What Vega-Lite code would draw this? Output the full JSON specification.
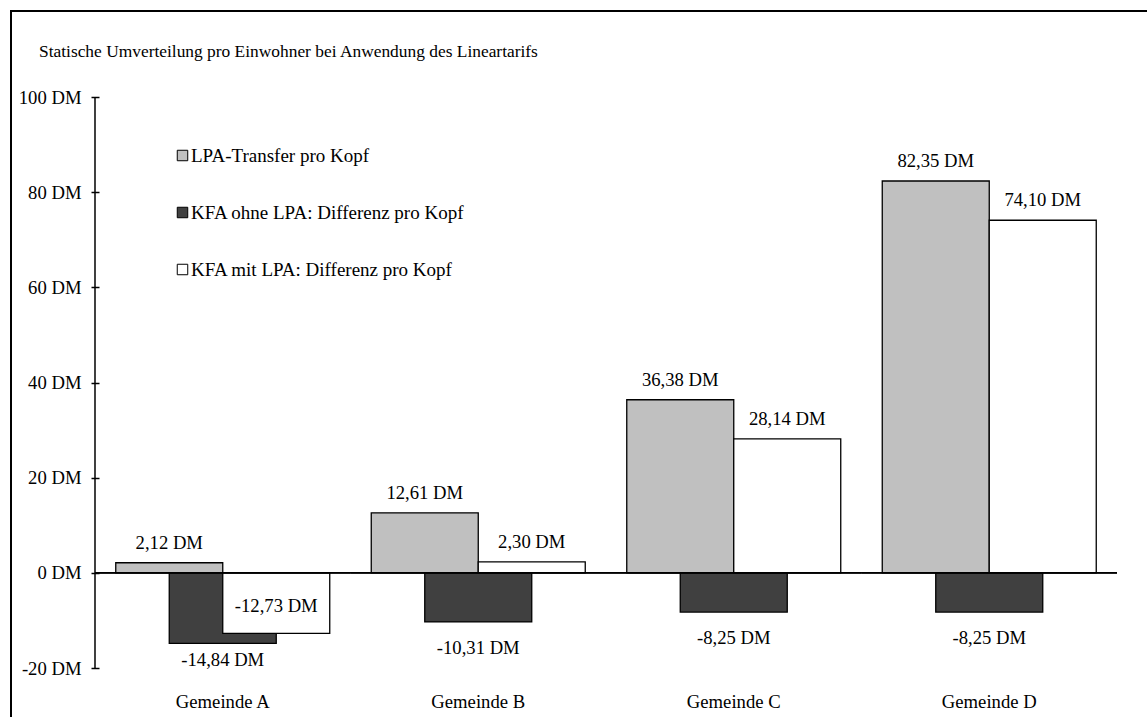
{
  "$schema": "https://vega.github.io/schema/vega-lite/v6.json",
  "width": 1139,
  "height": 709,
  "autosize": {"type": "none"},
  "padding": {"left": 11, "top": 11, "right": -3, "bottom": -3},
  "background": "white",
  "config": {
    "view": {"stroke": "black", "strokeWidth": 2, "fill": "white"},
    "locale": {"number": {"decimal": ",", "thousands": ".", "grouping": [3], "currency": ["", " DM"], "minus": "-"}},
    "font": "Liberation Serif"
  },
  "title": {
    "text": "Statische Umverteilung pro Einwohner bei Anwendung des Lineartarifs",
    "anchor": "start",
    "frame": "group",
    "orient": "top",
    "offset": -58,
    "dx": 28,
    "baseline": "middle",
    "font": "Liberation Serif",
    "fontSize": 17.4,
    "fontWeight": "normal",
    "color": "black"
  },
  "data": {
    "values": [
      {"Gemeinde": "Gemeinde A", "Serie": "LPA-Transfer pro Kopf", "Wert": 2.12},
      {"Gemeinde": "Gemeinde B", "Serie": "LPA-Transfer pro Kopf", "Wert": 12.61},
      {"Gemeinde": "Gemeinde C", "Serie": "LPA-Transfer pro Kopf", "Wert": 36.38},
      {"Gemeinde": "Gemeinde D", "Serie": "LPA-Transfer pro Kopf", "Wert": 82.35},
      {"Gemeinde": "Gemeinde A", "Serie": "KFA ohne LPA: Differenz pro Kopf", "Wert": -14.84},
      {"Gemeinde": "Gemeinde B", "Serie": "KFA ohne LPA: Differenz pro Kopf", "Wert": -10.31},
      {"Gemeinde": "Gemeinde C", "Serie": "KFA ohne LPA: Differenz pro Kopf", "Wert": -8.25},
      {"Gemeinde": "Gemeinde D", "Serie": "KFA ohne LPA: Differenz pro Kopf", "Wert": -8.25},
      {"Gemeinde": "Gemeinde A", "Serie": "KFA mit LPA: Differenz pro Kopf", "Wert": -12.73},
      {"Gemeinde": "Gemeinde B", "Serie": "KFA mit LPA: Differenz pro Kopf", "Wert": 2.30},
      {"Gemeinde": "Gemeinde C", "Serie": "KFA mit LPA: Differenz pro Kopf", "Wert": 28.14},
      {"Gemeinde": "Gemeinde D", "Serie": "KFA mit LPA: Differenz pro Kopf", "Wert": 74.10}
    ]
  },
  "layer": [
    {
      "mark": {"type": "bar", "stroke": "black", "strokeWidth": 1.3, "width": 107},
      "encoding": {
        "x": {
          "field": "Gemeinde", "type": "nominal",
          "scale": {"domain": ["Gemeinde A", "Gemeinde B", "Gemeinde C", "Gemeinde D"], "paddingInner": 0, "paddingOuter": 0.22896, "align": 0.71795},
          "axis": {"title": null, "domain": false, "ticks": false, "labelAngle": 0, "labelFont": "Liberation Serif", "labelFontSize": 18.67, "labelColor": "black", "labelPadding": 24, "offset": -52}
        },
        "xOffset": {
          "field": "Serie", "type": "nominal",
          "scale": {"domain": ["LPA-Transfer pro Kopf", "KFA ohne LPA: Differenz pro Kopf", "KFA mit LPA: Differenz pro Kopf"], "paddingInner": 0, "paddingOuter": 0.888}
        },
        "y": {
          "field": "Wert", "type": "quantitative", "stack": null,
          "scale": {"domain": [-30.928, 118.074], "nice": false, "zero": false},
          "axis": {"title": null, "values": [-20, 0, 20, 40, 60, 80, 100], "format": "$.0f", "domain": false, "grid": false, "tickColor": "black", "tickSize": 8, "tickWidth": 1.5, "offset": -88, "labelPadding": 10, "labelFont": "Liberation Serif", "labelFontSize": 18.67, "labelColor": "black"}
        },
        "y2": {"datum": 0},
        "fill": {
          "field": "Serie", "type": "nominal",
          "scale": {"domain": ["LPA-Transfer pro Kopf", "KFA ohne LPA: Differenz pro Kopf", "KFA mit LPA: Differenz pro Kopf"], "range": ["#c0c0c0", "#404040", "#ffffff"]},
          "legend": {"orient": "none", "legendX": 162, "legendY": 135, "title": null, "direction": "vertical", "symbolType": "square", "symbolSize": 110, "symbolStrokeColor": "black", "symbolStrokeWidth": 1, "labelFont": "Liberation Serif", "labelFontSize": 19, "labelColor": "black", "rowPadding": 37, "labelOffset": -1, "padding": 0, "labelLimit": 0}
        }
      }
    },
    {
      "mark": {"type": "bar", "fill": "transparent", "stroke": "black", "strokeWidth": 1.5},
      "encoding": {
        "x": {"field": "Gemeinde", "type": "nominal"},
        "y": {"datum": 0},
        "y2": {"datum": 0}
      }
    },
    {
      "data": {"values": [{}]},
      "mark": {"type": "rule", "stroke": "black", "strokeWidth": 1.5},
      "encoding": {
        "x": {"datum": "Gemeinde A", "bandPosition": 0},
        "y": {"datum": -20},
        "y2": {"datum": 100}
      }
    },
    {
      "transform": [{"filter": "datum.Wert > 0"}],
      "mark": {"type": "text", "dy": -20, "baseline": "middle", "font": "Liberation Serif", "fontSize": 18.67, "color": "black"},
      "encoding": {
        "x": {"field": "Gemeinde", "type": "nominal"},
        "xOffset": {"field": "Serie", "type": "nominal"},
        "y": {"field": "Wert", "type": "quantitative"},
        "text": {"field": "Wert", "type": "quantitative", "format": "$.2f"}
      }
    },
    {
      "transform": [{"filter": "datum.Wert < 0 && datum.Gemeinde != 'Gemeinde A'"}],
      "mark": {"type": "text", "dy": 26, "baseline": "middle", "font": "Liberation Serif", "fontSize": 18.67, "color": "black"},
      "encoding": {
        "x": {"field": "Gemeinde", "type": "nominal"},
        "xOffset": {"field": "Serie", "type": "nominal"},
        "y": {"field": "Wert", "type": "quantitative"},
        "text": {"field": "Wert", "type": "quantitative", "format": "$.2f"}
      }
    },
    {
      "transform": [{"filter": "datum.Gemeinde == 'Gemeinde A' && datum.Serie == 'KFA ohne LPA: Differenz pro Kopf'"}],
      "mark": {"type": "text", "dy": 16.5, "baseline": "middle", "font": "Liberation Serif", "fontSize": 18.67, "color": "black"},
      "encoding": {
        "x": {"field": "Gemeinde", "type": "nominal"},
        "xOffset": {"field": "Serie", "type": "nominal"},
        "y": {"field": "Wert", "type": "quantitative"},
        "text": {"field": "Wert", "type": "quantitative", "format": "$.2f"}
      }
    },
    {
      "transform": [{"filter": "datum.Gemeinde == 'Gemeinde A' && datum.Serie == 'KFA mit LPA: Differenz pro Kopf'"}],
      "mark": {"type": "text", "dy": -27, "baseline": "middle", "font": "Liberation Serif", "fontSize": 18.67, "color": "black"},
      "encoding": {
        "x": {"field": "Gemeinde", "type": "nominal"},
        "xOffset": {"field": "Serie", "type": "nominal"},
        "y": {"field": "Wert", "type": "quantitative"},
        "text": {"field": "Wert", "type": "quantitative", "format": "$.2f"}
      }
    }
  ]
}
